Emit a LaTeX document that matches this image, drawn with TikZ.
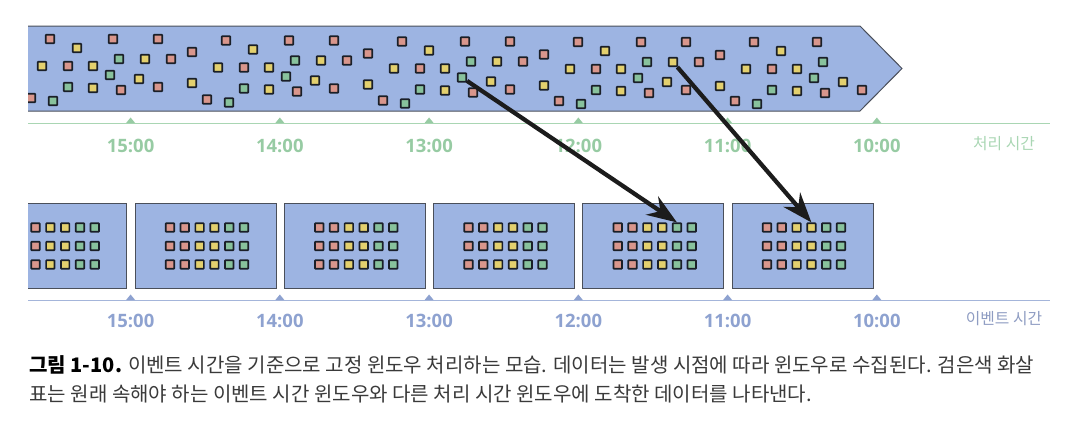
\documentclass[tikz,border=0pt]{standalone}
\usepackage{fontspec}
\setmainfont{Noto Sans CJK KR}
\newfontfamily\timefont{Open Sans}
\usetikzlibrary{arrows.meta}
\definecolor{band}{HTML}{9DB4E2}
\definecolor{edge}{HTML}{4A4F5A}
\definecolor{dotline}{HTML}{1A1F28}
\definecolor{dotr}{HTML}{D9968C}
\definecolor{doty}{HTML}{E3D06E}
\definecolor{dotg}{HTML}{88C29C}
\definecolor{proc}{HTML}{97CBA3}
\definecolor{proclight}{HTML}{A9D6B3}
\definecolor{evt}{HTML}{8EA2D0}
\definecolor{evtlight}{HTML}{8E9CC2}
\definecolor{captext}{HTML}{3A3A3A}
\definecolor{arrowc}{HTML}{1C1C1C}
\begin{document}
\begin{tikzpicture}
    [
    x=0.02cm, y=-0.02cm,
    dot/.style={draw=dotline,line width=0.34mm,rounded corners=0.12mm,inner sep=0pt,minimum size=1.7mm},
    window/.style={draw=edge,line width=0.2mm,fill=band},
    late/.style={draw=arrowc,line width=0.85mm,-{Stealth[length=6mm,width=4.4mm,inset=2mm]}},
    proclabel/.style={inner sep=0pt,text=proc,font=\timefont\bfseries\fontsize{10.5}{12}\selectfont},
    evtlabel/.style={inner sep=0pt,text=evt,font=\timefont\bfseries\fontsize{10.5}{12}\selectfont},
    axistitle/.style={inner sep=0pt,font=\fontsize{9}{11}\selectfont},
    caption/.style={anchor=west,inner sep=0pt,text=captext,font=\fontsize{11.4}{13}\selectfont}
    ]
    \useasboundingbox (0,0) rectangle (1080,430);

    \begin{scope}
    \clip (28,0) rectangle (1080,300);
    \fill [band] (0,26) -- (860,26) -- (902,68.5) -- (860,111) -- (0,111) -- cycle;
    \draw [edge,line width=0.2mm] (0,26) -- (860,26) -- (902,68.5) -- (860,111) -- (0,111);

    \foreach \p/\xo/\yo in {1/50/0,2/226/1.5,3/402/2.5,4/578/3,5/754/3} {
      \foreach \dx/\dy/\c/\k [count=\i] in {0/39/r/1, 27/48/y/1, -8/66/y/1, 18/66/r/1, 43/66/y/1,
          63/39/r/1, 69/59/g/1, 60/75/g/1, 18/87/g/1, 43/88/y/1, 71/90/r/1, -19/98/r/1, 3/101/g/1,
          89/79/y/1, 95/59/y/0, 108/39/r/0, 121/59/r/0, 142/52/r/0, 108/87/r/1, 142/83/y/0} {
        \pgfmathtruncatemacro\shown{(\p<5)||(\k==1)}
        \ifnum\shown=1
          \node (d\p-\i) at (\xo+\dx,\dy+\yo) [dot,fill=dot\c] {};
        \fi
      }
    }

    \foreach \w in {0,...,5} {
      \pgfmathsetmacro\xl{-14.25+149.25*\w}
      \draw [window] (\xl,203) rectangle (\xl+141,288);
      \foreach \c [count=\col] in {r,r,y,y,g,g} {
        \foreach \row/\y in {1/227.5,2/246,3/264.5} {
          \node (w\w-\row-\col) at (\xl+72+14.8*\col-51.8,\y) [dot,fill=dot\c] {};
        }
      }
    }
    \end{scope}

    \coordinate (pstart) at (28,123);
    \coordinate (pend) at (1050,123);
    \coordinate (estart) at (28,300);
    \coordinate (eend) at (1050,300);
    \draw [proclight,line width=0.2mm] (pstart) -- (pend);
    \draw [evt!80,line width=0.2mm] (estart) -- (eend);

    \foreach \h [count=\j from 0] in {15,14,13,12,11,10} {
      \pgfmathsetmacro\tx{130.6+149.25*\j}
      \fill [proc] (\tx-4.5,123) -- (\tx,117.5) -- (\tx+4.5,123) -- cycle;
      \node (p\h) at (\tx,146) [proclabel] {\h:00};
      \fill [evt] (\tx-4.5,300) -- (\tx,294.5) -- (\tx+4.5,300) -- cycle;
      \node (e\h) at (\tx,321) [evtlabel] {\h:00};
    }

    \node (ptitle) at (1004,144) [axistitle,text=proclight] {처리 시간};
    \node (etitle) at (1004,319) [axistitle,text=evtlight] {이벤트 시간};

    \draw [late] (d3-8) -- (w4-1-5.north);
    \draw [late] (d4-15) -- (w5-1-4.north);

    \node (cap1) at (29,365) [caption] {{\bfseries\color{black}그림 1-10.} 이벤트 시간을 기준으로 고정 윈도우 처리하는 모습. 데이터는 발생 시점에 따라 윈도우로 수집된다. 검은색 화살};
    \node (cap2) at (29,394) [caption] {표는 원래 속해야 하는 이벤트 시간 윈도우와 다른 처리 시간 윈도우에 도착한 데이터를 나타낸다.};
  \end{tikzpicture}
\end{document}
